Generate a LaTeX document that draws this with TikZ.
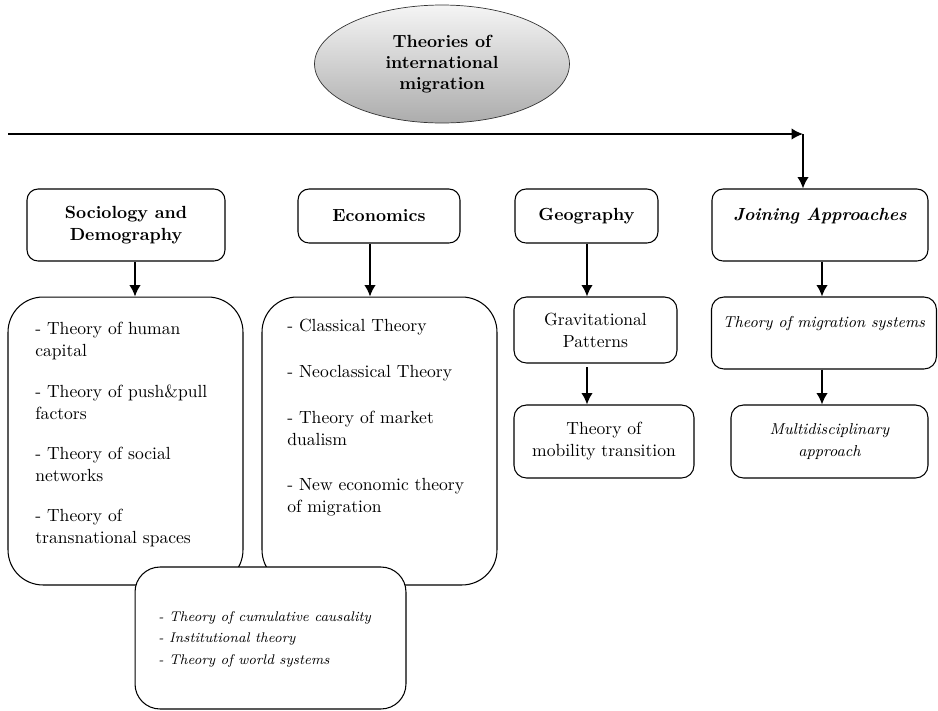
\documentclass[tikz,border=0pt]{standalone}
\usepackage{tikz}
\usetikzlibrary{arrows}
\usetikzlibrary{arrows.meta}
\usetikzlibrary{shapes.geometric}
\usetikzlibrary{positioning}
\tikzset{>=latex}
\tikzstyle{head} = [rectangle, draw, semithick, rounded corners=.22cm, align=center, font=\bfseries\fontsize{10}{12.5}\selectfont]
\tikzstyle{list} = [rectangle, draw, semithick, rounded corners=.7cm]
\tikzstyle{sub} = [rectangle, draw, semithick, rounded corners=.25cm, align=center, font=\fontsize{10}{12.5}\selectfont]
\tikzstyle{txt} = [draw=none, inner sep=0, anchor=north west, align=left, font=\fontsize{10}{12.5}\selectfont]
\tikzstyle{arr} = [-{Latex[length=6.5pt, width=6.5pt]}, line width=.9pt]

\begin{document}
\begin{tikzpicture}[x=.02cm, y=-.02cm]
\useasboundingbox (0,0) rectangle (938,711);
\node [ellipse, draw=black!80, top color=gray!8, bottom color=gray!65, minimum width=5.1cm, minimum height=2.36cm, inner sep=0, align=center, font=\bfseries\fontsize{10}{12}\selectfont] (T) at (442,64) {Theories of\\international\\migration};

% disciplines
\node [head, minimum width=3.96cm, minimum height=1.44cm] (SD) at (126,225) {Sociology and\\Demography};
\node [head, minimum width=3.24cm, minimum height=1.08cm] (E) at (379,216) {Economics};
\node [head, minimum width=2.86cm, minimum height=1.08cm] (G) at (586.5,216) {Geography};
\node [head, minimum width=4.32cm, minimum height=1.44cm, font=\bfseries\itshape\fontsize{10}{12.5}\selectfont] (J) at (820,225) {Joining Approaches\\\mbox{}};

\coordinate (S) at (8,134);
\coordinate (K) at (803,134);
\draw [arr] (S) -- (K);
\draw [arr] (K) -- (K |- J.north);

% theory lists
\node [list, minimum width=4.7cm, minimum height=5.76cm] (SDL) at (125.5,441) {};
\node [list, minimum width=4.7cm, minimum height=5.76cm] (EL) at (379.5,441) {};
\node [txt] (SDT) at (35,322) {- Theory of human\\capital\\[10.5pt]
  - Theory of push\&pull\\factors\\[10.5pt]
  - Theory of social\\networks\\[10.5pt]
  - Theory of\\transnational spaces};
\node [txt] (ET) at (287,319) {- Classical Theory\\[13.5pt]
  - Neoclassical Theory\\[13.5pt]
  - Theory of market\\dualism\\[13.5pt]
  - New economic theory\\of migration};
\node [list, rounded corners=.5cm, fill=white, minimum width=5.42cm, minimum height=2.84cm] (X) at (270.5,638) {};
\node [txt, font=\itshape\fontsize{8}{12.2}\selectfont] (XT) at (158,611) {- Theory of cumulative causality\\- Institutional theory\\- Theory of world systems};

\node [sub, minimum width=3.26cm, minimum height=1.32cm] (GP) at (595.5,330) {Gravitational\\Patterns};
\node [sub, minimum width=3.6cm, minimum height=1.46cm] (MT) at (604,441.5) {Theory of\\mobility transition};
\node [sub, minimum width=4.5cm, minimum height=1.44cm, font=\itshape\fontsize{9}{12.5}\selectfont] (MS) at (824,333) {Theory of migration systems\\\mbox{}};
\node [sub, minimum width=3.94cm, minimum height=1.46cm, font=\itshape\fontsize{9}{12.5}\selectfont] (MA) at (829.5,441.5) {Multidisciplinary\\approach};

\coordinate (a1) at (135,0);
\coordinate (a2) at (370,0);
\coordinate (a3) at (587,0);
\coordinate (a4) at (822,0);
\draw [arr] (a1 |- SD.south) -- (a1 |- SDL.north);
\draw [arr] (a2 |- E.south) -- (a2 |- EL.north);
\draw [arr] (a3 |- G.south) -- (a3 |- GP.north);
\draw [arr] (a4 |- J.south) -- (a4 |- MS.north);
\draw [arr, shorten <=2pt] (a3 |- GP.south) -- (a3 |- MT.north);
\draw [arr] (a4 |- MS.south) -- (a4 |- MA.north);
\end{tikzpicture}
\end{document}
